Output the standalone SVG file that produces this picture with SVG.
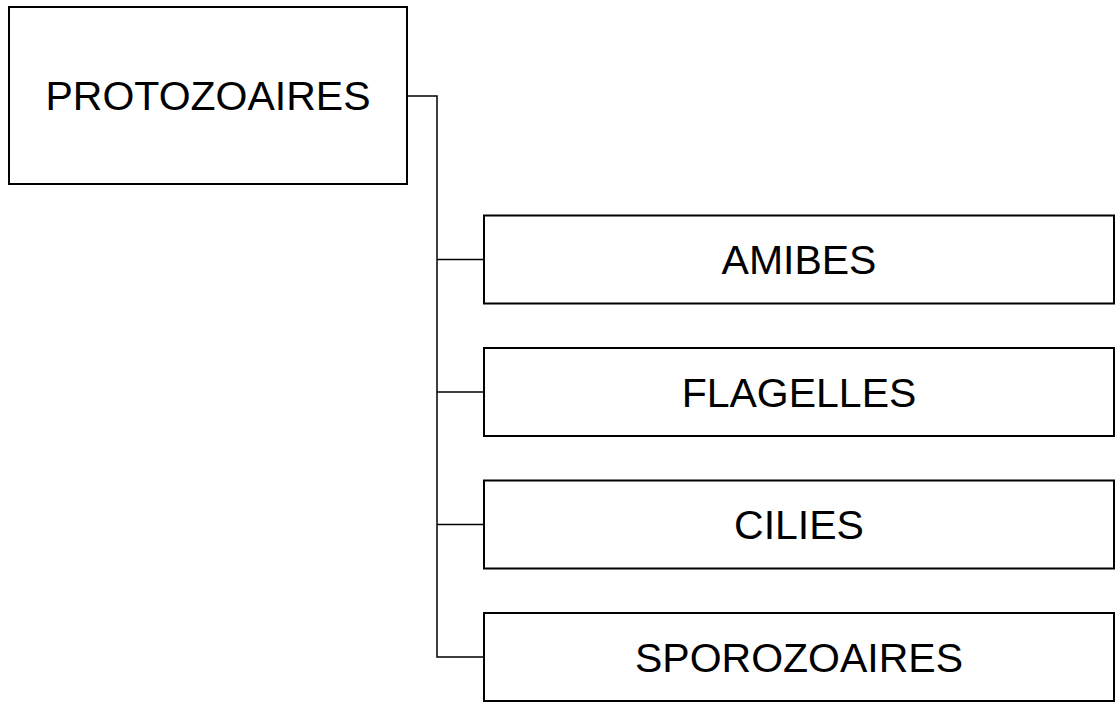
<svg xmlns="http://www.w3.org/2000/svg" width="1117" height="704" viewBox="0 0 1117 704">
<style>
.box{fill:#fff;stroke:#000;stroke-width:2}
.lbl{font-family:"Liberation Sans",Arial,sans-serif;font-size:41px;fill:#000;text-anchor:middle}
.con{fill:none;stroke:#000;stroke-width:1.5}
</style>
<rect width="1117" height="704" fill="#fff"/>
<g id="connectors">
<path class="con" d="M407 96 H437 V657 H484"/>
<path class="con" d="M437 259.5 H484"/>
<path class="con" d="M437 392 H484"/>
<path class="con" d="M437 524.5 H484"/>
</g>
<g id="protozoaires">
<rect class="box" x="9" y="7" width="398" height="177"/>
<text class="lbl" x="208" y="110">PROTOZOAIRES</text>
</g>
<g id="amibes">
<rect class="box" x="484" y="215.5" width="630" height="88"/>
<text class="lbl" x="799" y="274">AMIBES</text>
</g>
<g id="flagelles">
<rect class="box" x="484" y="348" width="630" height="88"/>
<text class="lbl" x="799" y="406.5">FLAGELLES</text>
</g>
<g id="cilies">
<rect class="box" x="484" y="480.5" width="630" height="88"/>
<text class="lbl" x="799" y="539">CILIES</text>
</g>
<g id="sporozoaires">
<rect class="box" x="484" y="613" width="630" height="88"/>
<text class="lbl" x="799" y="671.5">SPOROZOAIRES</text>
</g>
</svg>
